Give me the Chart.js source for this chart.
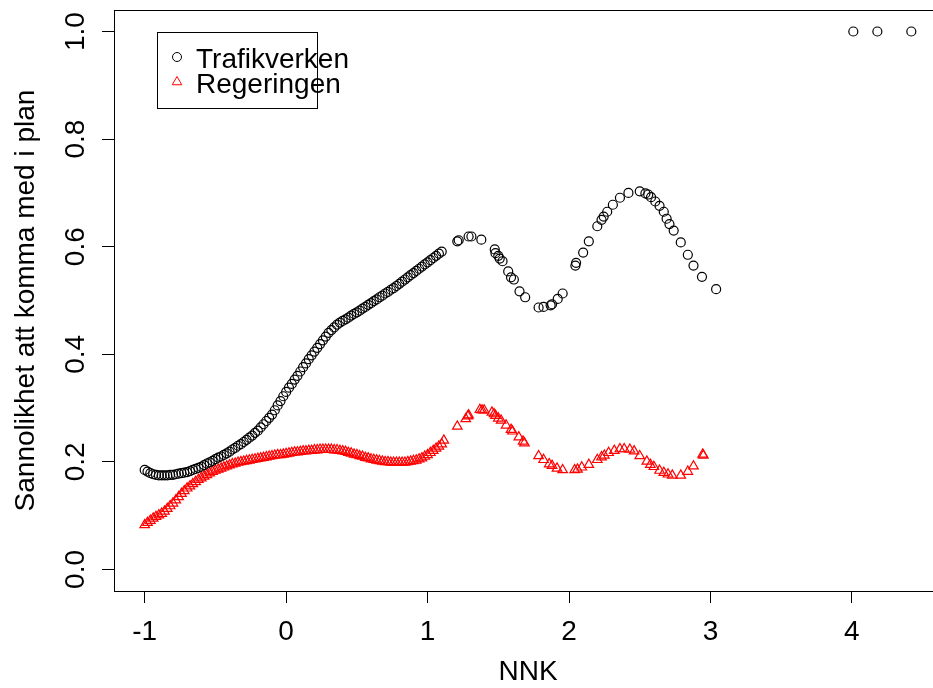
<!DOCTYPE html>
<html>
<head>
<meta charset="utf-8">
<script src="https://cdn.jsdelivr.net/npm/chart.js@4.4.1/dist/chart.umd.min.js"></script>
<style>
  html, body { margin: 0; padding: 0; background: #fff; overflow: hidden; }
  canvas { display: block; }
</style>
</head>
<body>
<canvas id="myCanvas" width="960" height="688"></canvas>
<script>
// NNK values in the dense part (both series)
const nnkDense = [-1, -0.98, -0.96, -0.94, -0.92, -0.9, -0.88, -0.86, -0.84, -0.82,
  -0.8, -0.78, -0.76, -0.74, -0.72, -0.7, -0.68, -0.66, -0.64, -0.62,
  -0.6, -0.58, -0.56, -0.54, -0.52, -0.5, -0.48, -0.46, -0.44, -0.42,
  -0.4, -0.38, -0.36, -0.34, -0.32, -0.3, -0.28, -0.26, -0.24, -0.22,
  -0.2, -0.18, -0.16, -0.14, -0.12, -0.1, -0.08, -0.06, -0.04, -0.02,
  0, 0.02, 0.04, 0.06, 0.08, 0.1, 0.12, 0.14, 0.16, 0.18,
  0.2, 0.22, 0.24, 0.26, 0.28, 0.3, 0.32, 0.34, 0.36, 0.38,
  0.4, 0.42, 0.44, 0.46, 0.48, 0.5, 0.52, 0.54, 0.56, 0.58,
  0.6, 0.62, 0.64, 0.66, 0.68, 0.7, 0.72, 0.74, 0.76, 0.78,
  0.8, 0.82, 0.84, 0.86, 0.88, 0.9, 0.92, 0.94, 0.96, 0.98,
  1, 1.02, 1.04, 1.06, 1.08, 1.1];

const trafikDenseY = [.185, .182, .179, .177, .176, .175, .175, .175, .175, .176,
  .176, .177, .178, .179, .180, .181, .183, .185, .187, .189,
  .191, .194, .197, .199, .202, .205, .208, .210, .213, .216,
  .219, .223, .226, .230, .233, .237, .241, .245, .249, .254,
  .258, .264, .270, .276, .282, .288, .296, .305, .313, .322,
  .330, .338, .345, .353, .360, .368, .376, .383, .391, .398,
  .405, .412, .419, .426, .433, .440, .445, .450, .455, .459,
  .462, .465, .468, .472, .475, .478, .481, .485, .488, .492,
  .495, .499, .502, .506, .509, .513, .516, .520, .523, .527,
  .531, .535, .539, .543, .547, .551, .555, .559, .563, .567,
  .571, .575, .579, .583, .587, .591];

const trafikTailX = [1.21, 1.22, 1.29, 1.31, 1.38, 1.475, 1.48, 1.5, 1.51, 1.53,
  1.57, 1.59, 1.61, 1.65, 1.69, 1.785, 1.82, 1.87, 1.88, 1.92,
  1.955, 2.045, 2.05, 2.1, 2.14, 2.2, 2.23, 2.245, 2.27, 2.31,
  2.36, 2.42, 2.5, 2.54, 2.56, 2.58, 2.61, 2.64, 2.67, 2.69,
  2.71, 2.74, 2.79, 2.84, 2.88, 2.94, 3.04, 4.01, 4.18, 4.42];
const trafikTailY = [.610, .612, .619, .619, .613, .595, .588, .583, .578, .573,
  .554, .543, .539, .517, .506, .487, .488, .491, .493, .503,
  .513, .565, .570, .589, .610, .638, .650, .656, .665, .678,
  .691, .700, .703, .699, .697, .692, .684, .676, .665, .652,
  .642, .630, .608, .585, .565, .544, .521, 1, 1, 1];

const regDenseY = [.083, .087, .091, .095, .098, .101, .104, .108, .113, .118,
  .123, .129, .135, .141, .146, .151, .155, .159, .163, .167,
  .170, .173, .176, .179, .182, .184, .186, .188, .190, .192,
  .194, .196, .197, .199, .200, .201, .202, .203, .204, .205,
  .206, .207, .208, .209, .210, .211, .212, .213, .213, .214,
  .215, .216, .217, .218, .218, .219, .220, .220, .221, .221,
  .222, .222, .223, .223, .223, .223, .223, .222, .222, .221,
  .220, .219, .217, .216, .214, .213, .211, .210, .208, .207,
  .205, .204, .203, .202, .201, .200, .200, .199, .199, .199,
  .199, .199, .199, .200, .201, .202, .203, .205, .207, .210,
  .213, .217, .221, .225, .229, .233];

const regTailX = [1.115, 1.21, 1.27, 1.285, 1.29, 1.37, 1.385, 1.4, 1.455, 1.47,
  1.48, 1.5, 1.52, 1.555, 1.59, 1.6, 1.645, 1.675, 1.685, 1.785,
  1.82, 1.86, 1.88, 1.915, 1.955, 2.04, 2.06, 2.09, 2.14, 2.2,
  2.23, 2.25, 2.28, 2.32, 2.36, 2.39, 2.43, 2.46, 2.5, 2.55,
  2.575, 2.6, 2.64, 2.67, 2.7, 2.73, 2.79, 2.84, 2.88, 2.945, 2.95];
const regTailY = [.240, .266, .280, .285, .287, .297, .296, .296, .292, .289,
  .286, .281, .277, .268, .260, .257, .246, .238, .235, .211,
  .204, .196, .193, .188, .185, .185, .186, .190, .195, .204,
  .209, .212, .217, .221, .224, .224, .223, .220, .211, .201,
  .195, .191, .184, .180, .177, .175, .175, .182, .192, .214, .212];

const xTicks = [-1, 0, 1, 2, 3, 4];
const yTicks = [0, 0.2, 0.4, 0.6, 0.8, 1.0];
const yTickLabels = ['0.0', '0.2', '0.4', '0.6', '0.8', '1.0'];
const seriesNames = ['Trafikverken', 'Regeringen'];

const FONT = '"Liberation Sans", Arial, Helvetica, sans-serif';

function toPoints(xs, ys) {
  return xs.map((x, i) => ({ x: x, y: ys[i] }));
}

const trafikPts = toPoints(nnkDense.concat(trafikTailX), trafikDenseY.concat(trafikTailY));
const regPts = toPoints(nnkDense.concat(regTailX), regDenseY.concat(regTailY));

// R style box, tick labels, axis titles and legend
const rAxes = {
  id: 'rAxes',
  afterDraw(chart) {
    const { ctx, chartArea: a } = chart;
    const xs = chart.scales.x, ys = chart.scales.y;
    ctx.save();
    ctx.strokeStyle = '#000';
    ctx.lineWidth = 1;
    ctx.strokeRect(Math.round(a.left) + 0.5, Math.round(a.top) + 0.5,
      Math.round(a.right - a.left), Math.round(a.bottom - a.top));

    ctx.fillStyle = '#000';
    ctx.font = '28px ' + FONT;
    ctx.textAlign = 'center';
    ctx.textBaseline = 'middle';
    xTicks.forEach(v => ctx.fillText(String(v), xs.getPixelForValue(v), 632));
    yTicks.forEach((v, i) => {
      ctx.save();
      ctx.translate(76, ys.getPixelForValue(v));
      ctx.rotate(-Math.PI / 2);
      ctx.fillText(yTickLabels[i], 0, 0);
      ctx.restore();
    });
    ctx.fillText('NNK', (a.left + a.right) / 2, 672);
    ctx.save();
    ctx.translate(26, (a.top + a.bottom) / 2);
    ctx.rotate(-Math.PI / 2);
    ctx.fillText('Sannolikhet att komma med i plan', 0, 0);
    ctx.restore();

    // legend
    ctx.strokeRect(157.5, 32.5, 160, 76);
    ctx.font = '28px ' + FONT;
    ctx.textAlign = 'left';
    ctx.textBaseline = 'alphabetic';
    ctx.fillText(seriesNames[0], 196, 68);
    ctx.fillText(seriesNames[1], 196, 93);
    ctx.fillStyle = 'rgba(0,0,0,0)';
    ctx.strokeStyle = '#000';
    Chart.helpers.drawPoint(ctx, { pointStyle: 'circle', radius: 4.5, rotation: 0, borderWidth: 1 }, 177, 57);
    ctx.strokeStyle = '#ff0000';
    Chart.helpers.drawPoint(ctx, { pointStyle: 'triangle', radius: 5.5, rotation: 0, borderWidth: 1 }, 177, 82);
    ctx.restore();
  }
};

const ctx = document.getElementById('myCanvas').getContext('2d');
const myChart = new Chart(ctx, {
  type: 'scatter',
  data: {
    datasets: [{
      label: seriesNames[0],
      data: trafikPts,
      pointStyle: 'circle',
      pointRadius: 4.5,
      pointHoverRadius: 4.5,
      borderWidth: 1.2,
      borderColor: '#000',
      backgroundColor: 'rgba(0,0,0,0)'
    }, {
      label: seriesNames[1],
      data: regPts,
      pointStyle: 'triangle',
      pointRadius: 5.5,
      pointHoverRadius: 5.5,
      borderWidth: 1.2,
      borderColor: '#ff0000',
      backgroundColor: 'rgba(0,0,0,0)'
    }]
  },
  options: {
    responsive: false,
    animation: false,
    events: [],
    layout: { padding: { top: 10, right: 18, left: 0, bottom: 0 } },
    plugins: { legend: { display: false }, tooltip: { enabled: false } },
    scales: {
      x: {
        type: 'linear',
        min: -1.217,
        max: 4.637,
        afterFit: s => { s.height = 97; },
        afterBuildTicks: s => { s.ticks = xTicks.map(v => ({ value: v })); },
        ticks: { display: false },
        grid: { drawOnChartArea: false, drawTicks: true, tickLength: 12, color: '#000', lineWidth: 1 },
        border: { display: false }
      },
      y: {
        type: 'linear',
        min: -0.04,
        max: 1.04,
        afterFit: s => { s.width = 114; },
        afterBuildTicks: s => { s.ticks = yTicks.map(v => ({ value: v })); },
        ticks: { display: false },
        grid: { drawOnChartArea: false, drawTicks: true, tickLength: 12, color: '#000', lineWidth: 1 },
        border: { display: false }
      }
    }
  },
  plugins: [rAxes]
});
</script>
</body>
</html>
